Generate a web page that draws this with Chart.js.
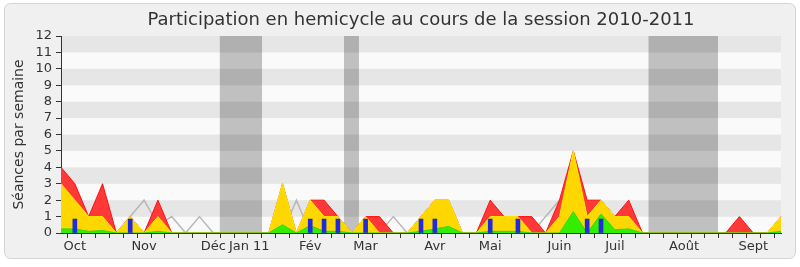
<!DOCTYPE html>
<html>
<head>
<meta charset="utf-8">
<title>Participation en hemicycle</title>
<script src="https://cdn.jsdelivr.net/npm/chart.js@4"></script>
<style>
  body { margin: 0; background: #ffffff; }
  canvas { display: block; }
</style>
</head>
<body>
<canvas id="myChart" width="800" height="267"></canvas>
<script>
// semaines de la session (53 semaines), seuls quelques mois sont étiquetés
const semaines = ['', 'Oct', '', '', '', '', 'Nov', '', '', '', '', 'Déc', '', '    Jan 11', '', '', '', '', 'Fév', '', '', '', 'Mar', '', '', '', '', 'Avr', '', '', '', 'Mai', '', '', '', '', 'Juin', '', '', '', 'Juil', '', '', '', '', 'Août', '', '', '', '', 'Sept', '', ''];

// présences (rouge)
const presences = [4, 3, 1, 3, 0, 1, 0, 2, 0, 0, 0, 0, 0, 0, 0, 0, 3, 0, 2, 2, 1, 0, 1, 1, 0, 0, 1, 2, 2, 0, 0, 2, 1, 1, 1, 0, 2, 5, 2, 2, 1, 2, 0, 0, 0, 0, 0, 0, 0, 1, 0, 0, 1];
// interventions (jaune)
const interventions = [3, 2, 1, 1, 0, 1, 0, 1, 0, 0, 0, 0, 0, 0, 0, 0, 3, 0, 2, 1, 1, 0, 1, 0, 0, 0, 1, 2, 2, 0, 0, 1, 1, 1, 0, 0, 1, 5, 1, 2, 1, 1, 0, 0, 0, 0, 0, 0, 0, 0, 0, 0, 1];
// interventions longues (vert)
const longues = [0.25, 0.25, 0.1, 0.15, 0, 0, 0, 0.1, 0, 0, 0, 0, 0, 0, 0, 0, 0.5, 0, 0.45, 0.1, 0.1, 0, 0, 0, 0, 0, 0.1, 0.25, 0.4, 0, 0, 0.1, 0.1, 0.1, 0, 0, 0, 1.3, 0, 1.15, 0.2, 0.25, 0, 0, 0, 0, 0, 0, 0, 0, 0, 0, 0.1];
// médiane des députés (gris)
const mediane = [0, 0, 0, 0, 0, 1, 2, 0.5, 1, 0, 1, 0, 0, 0, 0, 0, 0, 2, 0, 0, 0, 0, 0, 0, 1, 0, 0, 0, 1, 0, 0, 0, 0, 0, 0, 1, 2, 0, 0, 0, 0, 0, 0, 0, 0, 0, 0, 0, 0, 0, 0, 0, 0];
// questions orales (bleu)
const questions = [null, 0.85, null, null, null, 0.85, null, null, null, null, null, null, null, null, null, null, null, null, 0.85, 0.85, 0.85, null, 0.85, null, null, null, 0.85, 0.85, null, null, null, 0.85, null, 0.85, null, null, null, null, 0.85, 0.85, null, null, null, null, null, null, null, null, null, null, null, null, null];

// vacances parlementaires, en semaines [début, fin]
const vacances = [[11.47, 14.52], [20.44, 21.52], [42.43, 47.45]];

const police = 'DejaVu Sans';

// fond, bandes horizontales et vacances
const fondPlugin = {
    id: 'fond',
    afterLayout(chart) {
        // le titre est centré sur la zone du graphique
        if (chart.titleBlock) {
            chart.titleBlock.left = chart.chartArea.left;
            chart.titleBlock.right = chart.chartArea.right;
        }
    },
    beforeDraw(chart) {
        const ctx = chart.ctx;
        const area = chart.chartArea;
        const x = chart.scales.x;
        const y = chart.scales.y;
        ctx.save();
        ctx.fillStyle = '#ffffff';
        ctx.fillRect(0, 0, chart.width, chart.height);
        ctx.beginPath();
        ctx.roundRect(4.5, 3.5, 791, 255, 6);
        ctx.fillStyle = '#f0f0f0';
        ctx.fill();
        ctx.strokeStyle = '#d4d4d4';
        ctx.lineWidth = 1;
        ctx.stroke();
        for (let v = 0; v < 12; v++) {
            const y0 = y.getPixelForValue(v);
            const y1 = y.getPixelForValue(v + 1);
            ctx.fillStyle = v % 2 === 0 ? '#fafafa' : '#e6e6e6';
            ctx.fillRect(area.left, y1, area.right - area.left, y0 - y1);
        }
        ctx.fillStyle = 'rgba(0,0,0,0.23)';
        vacances.forEach(function (v) {
            const a = x.getPixelForValue(v[0]);
            const b = x.getPixelForValue(v[1]);
            ctx.fillRect(a, area.top, b - a, area.bottom - area.top);
        });
        ctx.restore();
    }
};

const aire = function (label, data, fond, bord, ordre) {
    return {
        type: 'line',
        label: label,
        data: data,
        backgroundColor: fond,
        borderColor: bord,
        borderWidth: 1,
        fill: 'origin',
        tension: 0,
        pointRadius: 0,
        order: ordre
    };
};

const config = {
    type: 'line',
    data: {
        labels: semaines,
        datasets: [
            {
                type: 'bar',
                label: 'Questions orales',
                data: questions,
                backgroundColor: '#1f2bdc',
                barThickness: 4,
                order: 0
            },
            aire('Interventions longues', longues, '#33ee00', '#2fd800', 1),
            aire('Interventions', interventions, '#ffd700', '#ffea00', 2),
            aire('Présences', presences, '#ff3838', '#ff1010', 3),
            {
                type: 'line',
                label: 'Médiane',
                data: mediane,
                borderColor: '#b8b8b8',
                borderWidth: 1.5,
                fill: false,
                tension: 0,
                pointRadius: 0,
                order: 4
            }
        ]
    },
    options: {
        responsive: false,
        animation: false,
        layout: { padding: { left: 0, right: 19, top: 0, bottom: 0 } },
        plugins: {
            legend: { display: false },
            tooltip: { enabled: false },
            title: {
                display: true,
                text: 'Participation en hemicycle au cours de la session 2010-2011',
                color: '#333333',
                font: { family: police, size: 18, weight: 'normal' },
                padding: { top: 9.2, bottom: 5.2 }
            }
        },
        scales: {
            x: {
                type: 'category',
                offset: false,
                afterFit(scale) { scale.height = 34; },
                grid: { drawOnChartArea: false, drawTicks: true, tickLength: 5, tickColor: '#333333' },
                border: { color: '#333333', width: 1 },
                ticks: {
                    autoSkip: false,
                    maxRotation: 0,
                    padding: 1,
                    color: '#333333',
                    font: { family: police, size: 13 }
                }
            },
            y: {
                min: 0,
                max: 12,
                afterFit(scale) { scale.width = 61; },
                grid: { drawOnChartArea: false, drawTicks: true, tickLength: 5, tickColor: '#333333' },
                border: { color: '#333333', width: 1 },
                ticks: {
                    stepSize: 1,
                    autoSkip: false,
                    padding: 4,
                    color: '#333333',
                    font: { family: police, size: 13 }
                },
                title: {
                    display: true,
                    text: 'Séances par semaine',
                    color: '#333333',
                    font: { family: police, size: 14 },
                    padding: { top: 11, bottom: 0 }
                }
            }
        }
    },
    plugins: [fondPlugin]
};

new Chart(document.getElementById('myChart'), config);
</script>
</body>
</html>
